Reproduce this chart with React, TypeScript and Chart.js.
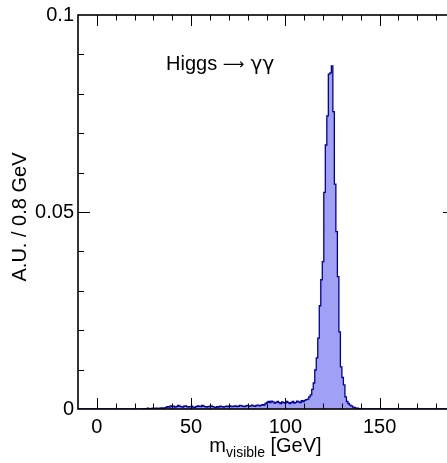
import React, { useEffect, useRef } from "react";
import { Chart, registerables } from "chart.js";

Chart.register(...registerables);

// ---- Histogram definition ----
const xMin = -10;
const xMax = 190;
const binWidth = 0.8; // GeV
const yMin = 0;
const yMax = 0.1;

// bins 0-43 (-10 .. 25.2 GeV)
const emptyLow = [
  0, 0, 0, 0, 0, 0, 0, 0, 0, 0, 0, 0, 0, 0, 0, 0, 0, 0, 0, 0, 0, 0,
  0, 0, 0, 0, 0, 0, 0, 0, 0, 0, 0, 0, 0, 0, 0, 0, 0, 0, 0, 0, 0, 0,
];
// bins 44-59 (25.2 .. 38 GeV)
const lowTail = [
  0.0001, 0, 0.0001, 0.0002, 0.0001, 0.0001, 0.0002, 0.0001, 0.0002, 0.0002,
  0.0001, 0.0002, 0.0003, 0.0002, 0.0003, 0.0004,
];
// bins 60-124 (38 .. 90 GeV)
const continuum = [
  0.0006, 0.0005, 0.0008, 0.0006, 0.0007, 0.0005, 0.0006, 0.0009, 0.0007, 0.0006,
  0.0005, 0.0007, 0.0008, 0.0006, 0.0005, 0.0006, 0.0007, 0.0005, 0.0004, 0.0006,
  0.0008, 0.0007, 0.0006, 0.0009, 0.0007, 0.0006, 0.0005, 0.0006, 0.0007, 0.0008,
  0.0006, 0.0005, 0.0004, 0.0006, 0.0005, 0.0007, 0.0006, 0.0005, 0.0006, 0.0007,
  0.0006, 0.0008, 0.0007, 0.0006, 0.0007, 0.0008, 0.0006, 0.0007, 0.0009, 0.0008,
  0.0007, 0.0006, 0.0008, 0.0009, 0.0007, 0.0008, 0.001, 0.0008, 0.0007, 0.0009,
  0.001, 0.0008, 0.0009, 0.0011, 0.001,
];
// bins 125-152 (90 .. 112.4 GeV)
const shoulder = [
  0.0014, 0.0017, 0.0019, 0.0016, 0.002, 0.0018, 0.0015, 0.0017, 0.0019, 0.0016,
  0.0014, 0.0018, 0.0016, 0.0015, 0.0019, 0.0017, 0.0014, 0.0016, 0.0019, 0.0015,
  0.0017, 0.002, 0.0018, 0.0016, 0.0021, 0.0019, 0.0022, 0.0024,
];
// bins 153-187 (112.4 .. 140.4 GeV)
const peak = [
  0.0025, 0.0031, 0.0036, 0.005, 0.0066, 0.0099, 0.013, 0.018, 0.0262, 0.0328,
  0.0374, 0.055, 0.067, 0.0744, 0.085, 0.0853, 0.0871, 0.0755, 0.0571, 0.045,
  0.0336, 0.0196, 0.0107, 0.008, 0.0061, 0.0031, 0.0019, 0.0014, 0.001, 0.0008,
  0.0005, 0.0004, 0.0002, 0.0002, 0.0001,
];
// bins 188-249 (140.4 .. 190 GeV)
const emptyHigh = [
  0, 0, 0, 0, 0, 0, 0, 0, 0, 0, 0, 0, 0, 0, 0, 0, 0, 0, 0, 0, 0,
  0, 0, 0, 0, 0, 0, 0, 0, 0, 0, 0, 0, 0, 0, 0, 0, 0, 0, 0, 0, 0,
  0, 0, 0, 0, 0, 0, 0, 0, 0, 0, 0, 0, 0, 0, 0, 0, 0, 0, 0, 0,
];

const binValues = [...emptyLow, ...lowTail, ...continuum, ...shoulder, ...peak, ...emptyHigh];

// ---- Axis ticks / labels ----
const xMajorTicks = [0, 50, 100, 150];
const xTickLabels = ["0", "50", "100", "150"];
const xMinorTicks = [0, 10, 20, 30, 40, 50, 60, 70, 80, 90, 100, 110, 120, 130, 140, 150, 160, 170, 180];
const yMajorTicks = [0, 0.05, 0.1];
const yTickLabels = ["0", "0.05", "0.1"];
const yMinorTicks = [0.01, 0.02, 0.03, 0.04, 0.05, 0.06, 0.07, 0.08, 0.09];

const xTitleMain = "m";
const xTitleSub = "visible";
const xTitleUnit = " [GeV]";
const yTitle = "A.U. / 0.8 GeV";
const annotationParts = ["Higgs ", "\u27f6", " \u03b3\u03b3"];

const FONT = '"Liberation Sans", Arial, Helvetica, sans-serif';
const SYMFONT = '"DejaVu Sans", sans-serif';

const rootFrame = {
  id: "rootFrame",
  afterDatasetsDraw(chart: any) {
    const { ctx, chartArea: a, scales } = chart;
    const x = scales.x;
    const y = scales.y;
    ctx.save();
    ctx.strokeStyle = "#000";
    ctx.lineWidth = 1;
    ctx.beginPath();
    for (const v of xMinorTicks) {
      const px = Math.round(x.getPixelForValue(v)) + 0.5;
      const len = xMajorTicks.includes(v) ? 11 : 5.5;
      ctx.moveTo(px, a.bottom);
      ctx.lineTo(px, a.bottom - len);
      ctx.moveTo(px, a.top);
      ctx.lineTo(px, a.top + len);
    }
    for (const v of yMinorTicks) {
      const py = Math.round(y.getPixelForValue(v)) + 0.5;
      const len = yMajorTicks.includes(v) ? 12 : 6;
      ctx.moveTo(a.left, py);
      ctx.lineTo(a.left + len, py);
      ctx.moveTo(a.right, py);
      ctx.lineTo(a.right - len, py);
    }
    ctx.stroke();

    // frame
    ctx.lineWidth = 1.6;
    ctx.strokeRect(a.left, a.top, a.right - a.left, a.bottom - a.top);

    // tick labels
    ctx.fillStyle = "#000";
    ctx.font = `20px ${FONT}`;
    ctx.textAlign = "center";
    ctx.textBaseline = "middle";
    xMajorTicks.forEach((v, i) => {
      ctx.fillText(xTickLabels[i], x.getPixelForValue(v), a.bottom + 18);
    });
    ctx.textAlign = "right";
    yMajorTicks.forEach((v, i) => {
      ctx.fillText(yTickLabels[i], a.left - 4, y.getPixelForValue(v));
    });

    // x title with subscript
    ctx.textBaseline = "alphabetic";
    ctx.textAlign = "left";
    ctx.font = `20px ${FONT}`;
    const wM = ctx.measureText(xTitleMain).width;
    const wU = ctx.measureText(xTitleUnit).width;
    ctx.font = `14px ${FONT}`;
    const wS = ctx.measureText(xTitleSub).width;
    const total = wM + wS + wU;
    let tx = (a.left + a.right) / 2 - 1 - total / 2;
    const base = a.bottom + 43;
    ctx.font = `20px ${FONT}`;
    ctx.fillText(xTitleMain, tx, base);
    tx += wM;
    ctx.font = `14px ${FONT}`;
    ctx.fillText(xTitleSub, tx, base + 5);
    tx += wS;
    ctx.font = `20px ${FONT}`;
    ctx.fillText(xTitleUnit, tx, base);

    // y title
    ctx.save();
    ctx.translate(20, (a.top + a.bottom) / 2 + 5);
    ctx.rotate(-Math.PI / 2);
    ctx.textAlign = "center";
    ctx.textBaseline = "middle";
    ctx.font = `20px ${FONT}`;
    ctx.fillText(yTitle, 0, 0);
    ctx.restore();

    // annotation: "Higgs → γγ"
    ctx.textAlign = "left";
    ctx.textBaseline = "alphabetic";
    let ax = a.left + 88;
    const ay = a.top + 55;
    const fonts = [`20px ${FONT}`, `15px ${SYMFONT}`, `20px ${SYMFONT}`];
    annotationParts.forEach((t, i) => {
      ctx.font = fonts[i];
      ctx.fillText(t, ax, i === 1 ? ay - 1 : ay);
      ax += ctx.measureText(t).width;
    });
    ctx.restore();
  },
};

export default function App() {
  const canvasRef = useRef<HTMLCanvasElement | null>(null);

  useEffect(() => {
    if (!canvasRef.current) return;
    const points = binValues.map((v, i) => ({ x: xMin + binWidth * i, y: v }));
    points.push({ x: xMax, y: binValues[binValues.length - 1] });
    const chart = new Chart(canvasRef.current, {
      type: "line",
      data: {
        datasets: [
          {
            data: points,
            stepped: "after",
            borderColor: "#000099",
            borderWidth: 1.3,
            backgroundColor: "rgb(160,160,245)",
            fill: "origin",
            pointRadius: 0,
            tension: 0,
          },
        ],
      },
      options: {
        responsive: false,
        animation: false,
        devicePixelRatio: 1,
        layout: { padding: { left: 78, top: 15, right: 15, bottom: 54 } },
        scales: {
          x: { type: "linear", min: xMin, max: xMax, display: false },
          y: { type: "linear", min: yMin, max: yMax, display: false },
        },
        plugins: { legend: { display: false }, tooltip: { enabled: false }, title: { display: false } },
      },
      plugins: [rootFrame],
    });
    return () => chart.destroy();
  }, []);

  return (
    <div
      style={{
        position: "fixed",
        left: 0,
        top: 0,
        width: 447,
        height: 463,
        overflow: "hidden",
        background: "#fff",
      }}
    >
      <canvas ref={canvasRef} width={470} height={463} style={{ display: "block", width: 470, height: 463 }} />
    </div>
  );
}
